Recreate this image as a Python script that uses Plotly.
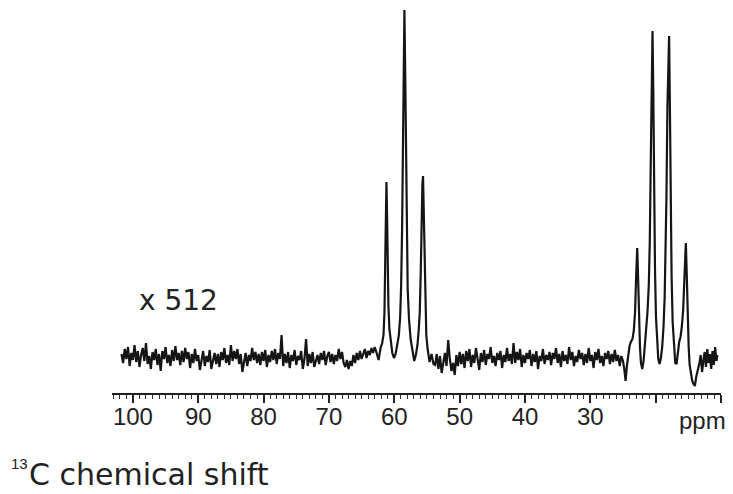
import plotly.graph_objects as go

# ---- data (intensity in arbitrary units, baseline = 0) ----
left_noise_ppm = [101.75 - 0.25 * i for i in range(156)]
left_noise_int = [3, -6, 8, -2, 10, -9, 4, -3, 12, -5,
                  6, -10, 2, 9, -4, 14, -7, 1, -12, 5,
                  -3, 8, -8, 3, -14, 6, -2, 10, -6, 2,
                  -9, 7, -4, 11, -3, 4, -8, 6, -5, 9,
                  -2, 5, -11, 3, -6, 8, -4, 2, -13, -3,
                  6, -9, 1, -5, 7, -12, -2, 4, -7, 3,
                  -10, 5, -3, 9, -6, 2, -8, 12, -4, 6,
                  -2, 8, -7, 3, -15, -5, 4, -9, 2, -4,
                  9, -3, 5, -6, 3, -8, 5, -4, 7, -10,
                  2, -5, 6, -3, 8, -7, 4, -2, 22, -9,
                  3, -6, 5, -11, 2, -4, 7, -8, 1, -3,
                  6, -12, -2, 18, -9, 3, -6, 5, -10, -4,
                  2, -7, 4, -3, 6, -8, 1, 5, -5, 3,
                  -7, 2, -4, 8, -2, 5, -6, -10, -3, -12,
                  -4, -9, 2, -6, 4, -3, 6, -2, 3, 8,
                  -1, 6, 2, 9, 4, 10]

triplet_ppm = [62.7, 62.4, 62.1, 61.85, 61.65, 61.5, 61.4, 61.3, 61.2, 61.1, 61.0, 60.9, 60.75,
               60.55, 60.3, 60.05, 59.8, 59.55, 59.3, 59.1, 58.95, 58.8, 58.7, 58.58, 58.45,
               58.33, 58.2, 58.08, 57.95, 57.75, 57.5, 57.2, 56.95, 56.7, 56.45, 56.25, 56.1,
               55.95, 55.82, 55.7, 55.6, 55.5, 55.4, 55.25, 55.1, 54.9, 54.6, 54.3, 54.0]
triplet_int = [4, -3, 9, 14, 22, 45, 90, 145, 175, 140, 88, 52, 28,
               14, 4, -1, 3, 12, 22, 40, 72, 130, 205, 290, 347,
               285, 185, 115, 68, 38, 18, 6, -4, 2, 12, 28, 45,
               85, 140, 172, 181, 150, 92, 48, 22, 8, -5, 3, -7]

mid_noise_ppm = [53.75 - 0.25 * i for i in range(115)]
mid_noise_int = [-8, 3, -12, 1, -16, -5, 4, -9, 17, -2,
                 -14, -6, -18, 2, -9, 5, -7, 3, -11, 6,
                 -4, 8, -10, 2, -6, 9, -3, -13, 4, -5,
                 7, -8, 3, -2, 10, -6, 1, -9, 4, -3,
                 6, -11, 2, -5, 9, -4, 3, -7, 14, -6,
                 5, -3, 8, -10, 2, -6, 4, -2, 7, -9,
                 3, -5, 6, -12, 1, -4, 8, -7, 2, -3,
                 5, -8, 4, -2, 9, -6, 3, -10, 6, -4,
                 2, -7, 10, -3, 5, -9, 1, -5, 7, -2,
                 4, -8, 3, -6, 9, -4, 2, -11, 5, -3,
                 8, -6, 1, -9, 4, -2, 6, -7, 3, -5,
                 7, -4, 2, -9, 1]

quartet_ppm = [25.0, 24.8, 24.6, 24.4, 24.2, 24.0, 23.8, 23.55, 23.35, 23.15, 23.0, 22.82, 22.68,
               22.55, 22.4, 22.25, 22.05, 21.85, 21.65, 21.45, 21.25, 21.05, 20.9, 20.75, 20.62,
               20.48, 20.36, 20.24, 20.1, 19.95, 19.8, 19.6, 19.4, 19.2, 19.0, 18.8, 18.62,
               18.48, 18.35, 18.2, 18.07, 17.94, 17.82, 17.7, 17.56, 17.4, 17.2, 17.0, 16.8,
               16.6, 16.4, 16.2, 16.0, 15.8, 15.65, 15.5, 15.38, 15.25, 15.1, 14.95, 14.8,
               14.6, 14.4, 14.2, 14.0, 13.8, 13.5]
quartet_int = [-4, -12, -24, -9, 4, 11, 15, 18, 26, 45, 78, 109, 78,
               40, 10, -6, -12, -4, 10, 26, 45, 72, 115, 195, 285,
               326, 265, 165, 88, 40, 14, -2, -7, -1, 10, 30, 60,
               100, 160, 250, 305, 321, 250, 150, 80, 35, 8, -6, -7,
               5, 15, 20, 30, 46, 72, 102, 114, 85, 40, 10, -8,
               -18, -24, -27, -29, -20, -12]

right_noise_ppm = [13.3, 13.1, 12.9, 12.7, 12.5, 12.3, 12.1, 11.9, 11.7, 11.5, 11.3, 11.1, 10.9, 10.7, 10.55]
right_noise_int = [-6, 2, -15, -4, 5, -10, 8, -6, 3, -12, 6, -8, 10, -4, 2]

major_ticks = [100, 90, 80, 70, 60, 50, 40, 30, 20, 10]
major_labels = ["100", "90", "80", "70", "60", "50", "40", "30", "", ""]

ppm = left_noise_ppm + triplet_ppm + mid_noise_ppm + quartet_ppm + right_noise_ppm
intensity = left_noise_int + triplet_int + mid_noise_int + quartet_int + right_noise_int

fig = go.Figure()
fig.add_trace(go.Scatter(x=ppm, y=intensity, mode="lines",
                         line=dict(color="#151515", width=2.2), hoverinfo="skip"))

# page body has an 8px margin; figure is sized to fill the rest of the window
fig.update_layout(
    width=725, height=486,
    margin=dict(l=104, r=12, t=0, b=101),
    paper_bgcolor="white", plot_bgcolor="white",
    showlegend=False,
    font=dict(family="Liberation Sans, Arial, sans-serif", color="#222222"),
)
fig.update_xaxes(
    range=[103.2, 10], showgrid=False, zeroline=False,
    showline=True, linecolor="#222222", linewidth=1.5,
    tickmode="array", tickvals=major_ticks, ticktext=major_labels,
    ticks="outside", ticklen=8, tickwidth=1.5, tickcolor="#222222",
    ticklabelstandoff=-7,
    tickfont=dict(size=24, color="#222222"),
    minor=dict(dtick=1, tick0=0, ticks="outside", ticklen=4, tickwidth=1, tickcolor="#333333", showgrid=False),
)
fig.update_yaxes(range=[-36, 349], visible=False, showgrid=False, zeroline=False)

fig.add_annotation(text="x 512", xref="paper", yref="paper", x=0.041, y=0.239,
                   xanchor="left", yanchor="middle", showarrow=False,
                   font=dict(size=28, family="DejaVu Sans, sans-serif", color="#222222"))
fig.add_annotation(text="ppm", xref="paper", yref="paper", x=1, y=-0.0727, xshift=7,
                   xanchor="right", yanchor="middle", showarrow=False,
                   font=dict(size=24, color="#222222"))
fig.add_annotation(text="13", xref="paper", yref="paper", x=-0.1690, y=-0.184,
                   xanchor="left", yanchor="middle", showarrow=False,
                   font=dict(size=15, color="#222222"))
fig.add_annotation(text="C chemical shift", xref="paper", yref="paper", x=-0.1396, y=-0.2104,
                   xanchor="left", yanchor="middle", showarrow=False,
                   font=dict(size=30, family="DejaVu Sans, sans-serif", color="#222222"))

fig.write_html("out.html")
